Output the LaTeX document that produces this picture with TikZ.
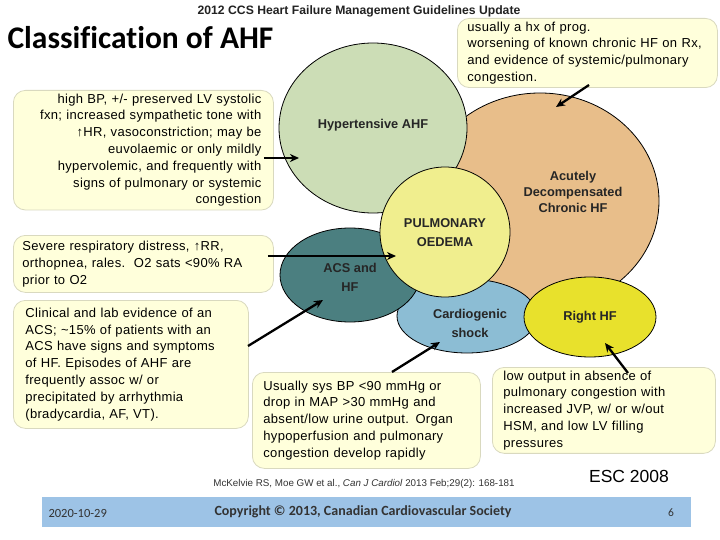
\documentclass[tikz,border=0pt]{standalone}
\usepackage{fontspec}
\setmainfont{Liberation Sans}
\newfontfamily\boxfont{Liberation Sans}[LetterSpace=2.5]
\newfontfamily\calfont{Carlito}[Ligatures=NoCommon]
\usetikzlibrary{arrows.meta}
\definecolor{boxfill}{HTML}{FFFFDB}
\definecolor{boxline}{HTML}{D9D9BF}
\definecolor{cgreen}{HTML}{CCDDB6}
\definecolor{corange}{HTML}{E8BE8A}
\definecolor{cpul}{HTML}{F0EE8E}
\definecolor{cteal}{HTML}{4B7F80}
\definecolor{cshock}{HTML}{8CBDD4}
\definecolor{cright}{HTML}{E8E12C}
\definecolor{barblue}{HTML}{9DC3E6}
\definecolor{titlegray}{HTML}{222222}
\newcommand{\upar}{\char"2191}
\tikzset{
  infobox/.style={draw=boxline, line width=0.8pt, fill=boxfill, rounded corners=12pt, anchor=north west, font=\boxfont\fontsize{13}{16.8}\selectfont},
  blob/.style={draw=black, line width=0.8pt},
  blobtext/.style={font=\fontsize{12.8}{19}\selectfont\bfseries, align=center, text=black!85},
  pointer/.style={-{Stealth[length=9pt,width=8pt]}, line width=2.3pt, black},
}
\begin{document}
\begin{tikzpicture}[x=1pt,y=-1pt]
\useasboundingbox (0,0) rectangle (720,540);
\fill[white] (0,0) rectangle (720,540);

% header
\node[font=\fontsize{12.2}{14}\selectfont\bfseries, text=titlegray] (hdr) at (359,11) {2012 CCS Heart Failure Management Guidelines Update};
\node[font=\calfont\fontsize{31.5}{34}\selectfont\bfseries, anchor=west] (title) at (4,38) {Classification of AHF};

% ellipse centres
\coordinate (cadhf) at (540,201);
\coordinate (chyp) at (373,128);
\coordinate (cshk) at (467,316);
\coordinate (cacs) at (350,275);
\coordinate (cpulm) at (445,232);
\coordinate (crhf) at (590,317);

% ellipses (back to front)
\draw[blob, fill=corange] (cadhf) ellipse [x radius=119pt, y radius=108pt];
\draw[blob, fill=cgreen] (chyp) ellipse [x radius=94pt, y radius=85pt];
\draw[blob, fill=cshock] (cshk) ellipse [x radius=70pt, y radius=37pt];
\draw[blob, fill=cteal] (cacs) ellipse [x radius=70pt, y radius=47pt];
\draw[blob, fill=cpul] (cpulm) circle [radius=65pt];
\draw[blob, fill=cright] (crhf) ellipse [x radius=66pt, y radius=40pt];

\node[blobtext] (hyplab) at (373,125) {Hypertensive AHF};
\node[blobtext, font=\fontsize{12.8}{16}\selectfont\bfseries] (adhflab) at (573,192) {Acutely\\Decompensated\\Chronic HF};
\node[blobtext] (pullab) at (445,233) {PULMONARY\\OEDEMA};
\node[blobtext] (acslab) at (350,277) {ACS and\\HF};
\node[blobtext] (shocklab) at (470,323) {Cardiogenic\\shock};
\node[blobtext] (rhflab) at (590,317) {Right HF};

% info boxes
\node[infobox, minimum width=256pt, minimum height=69pt, inner xsep=10pt, text width=240pt, align=left] (btop) at (457,18)
{usually a hx of prog.\\worsening of known chronic HF on Rx,\\and evidence of systemic/pulmonary\\congestion.};
\node[infobox, minimum width=260pt, minimum height=117pt, inner xsep=12pt, text width=236pt, align=right] (bhyp) at (13,90)
{high BP, +/- preserved LV systolic\\fxn; increased sympathetic tone with\\\upar HR, vasoconstriction; may be\\euvolaemic or only mildly\\hypervolemic, and frequently with\\signs of pulmonary or systemic\\congestion};
\node[infobox, minimum width=260pt, minimum height=57pt, inner xsep=9pt, text width=242pt, align=left] (bpul) at (13,235)
{Severe respiratory distress, \upar RR,\\orthopnea, rales.\ \ O2 sats <90\% RA\\prior to O2};
\node[infobox, minimum width=235pt, minimum height=128pt, inner xsep=12pt, text width=211pt, align=left] (bacs) at (13,300)
{Clinical and lab evidence of an\\ACS; \textasciitilde 15\% of patients with an\\ACS have signs and symptoms\\of HF. Episodes of AHF are\\frequently assoc w/ or\\precipitated by arrhythmia\\(bradycardia, AF, VT).};
\node[infobox, minimum width=228pt, minimum height=96pt, inner xsep=11pt, text width=206pt, align=left] (bshock) at (252,372)
{Usually sys BP <90 mmHg or\\drop in MAP >30 mmHg and\\absent/low urine output. Organ\\hypoperfusion and pulmonary\\congestion develop rapidly};
\node[infobox, minimum width=223pt, minimum height=84pt, inner xsep=11pt, text width=201pt, align=left, yshift=3pt] (brhf) at (492,370)
{low output in absence of\\pulmonary congestion with\\increased JVP, w/ or w/out\\HSM, and low LV filling\\pressures};

% arrow ends
\coordinate (tadhf) at (556,107);
\coordinate (thyp) at (299,158);
\coordinate (tpul) at (396,256);
\coordinate (tacs) at (323,300);
\coordinate (tshock) at (440,342);
\coordinate (trhf) at (605,343);
\coordinate (sadhf) at (589,85);
\coordinate (sacs) at (248,346);
\coordinate (sshock) at (392,372);
\coordinate (srhf) at (628,373);

\draw[pointer] (sadhf) -- (tadhf);
\draw[pointer] (bhyp.east |- thyp) ++(-10,0) -- (thyp);
\draw[pointer] (bpul.east |- tpul) ++(-6,0) -- (tpul);
\draw[pointer] (sacs) -- (tacs);
\draw[pointer] (sshock) -- (tshock);
\draw[pointer] (srhf) -- (trhf);

% citation
\node[font=\fontsize{9.8}{11}\selectfont, text=black!80] (cite) at (364,484) {McKelvie RS, Moe GW et al., \textit{Can J Cardiol} 2013 Feb;29(2): 168-181};
\node[font=\fontsize{17.5}{20}\selectfont] (esc) at (629,476) {ESC 2008};

% footer
\node[fill=barblue, minimum width=649pt, minimum height=30pt, inner sep=0pt, anchor=north west] (bar) at (42,497) {};
\node[font=\calfont\fontsize{12.5}{14}\selectfont, text=black!80, anchor=west] (date) at (45,513) {2020-10-29};
\node[font=\calfont\fontsize{14}{16}\selectfont\bfseries, text=black!80] (copy) at (363,512) {Copyright © 2013, Canadian Cardiovascular Society};
\node[font=\calfont\fontsize{11.5}{12}\selectfont, text=black!80] (page) at (671,513) {6};
\end{tikzpicture}
\end{document}
